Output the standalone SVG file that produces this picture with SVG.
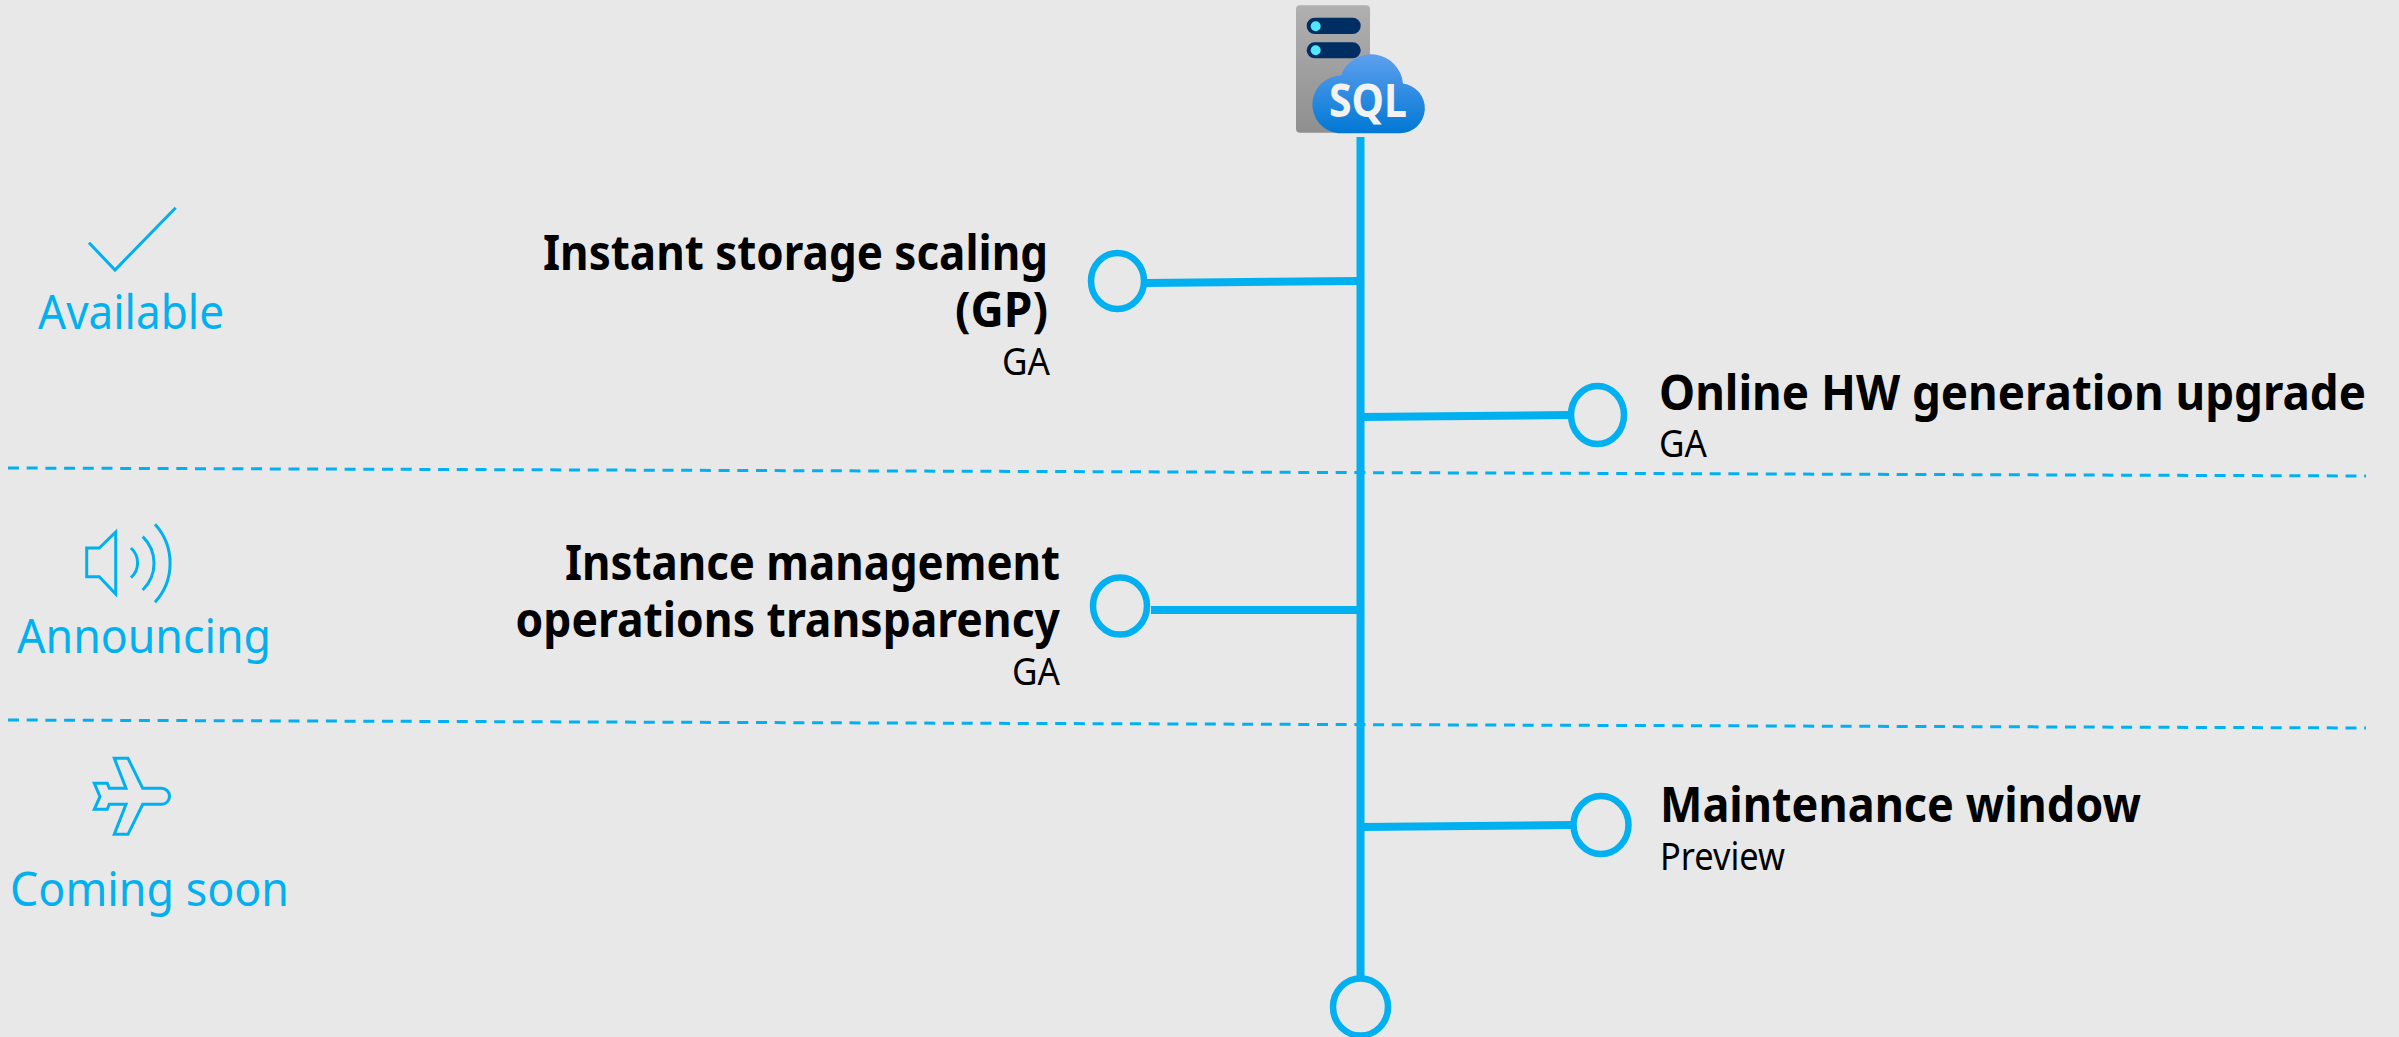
<svg xmlns="http://www.w3.org/2000/svg" width="2399" height="1037" viewBox="0 0 2399 1037">
<style>
.t{font-family:"Noto Sans","Open Sans","Liberation Sans",sans-serif;}
.h{font-size:49px;font-weight:700;fill:#000;}
.s{font-size:38px;font-weight:400;fill:#000;}
.l{font-size:48px;font-weight:400;fill:#00b0f0;}
.ic{fill:none;stroke:#00b0f0;stroke-width:3;}
.c{fill:none;stroke:#00b0f0;stroke-width:6.5;}
.br{stroke:#00b0f0;stroke-width:8;fill:none;}
.d{stroke:#00b0f0;stroke-width:3;stroke-dasharray:11 7.7;fill:none;}
</style>
<defs>
<linearGradient id="g1" x1="0" y1="0" x2="0" y2="1"><stop offset="0" stop-color="#b0b0b0"/><stop offset="1" stop-color="#8f8f8f"/></linearGradient>
<linearGradient id="g2" x1="0" y1="0" x2="0" y2="1"><stop offset="0" stop-color="#5ea0ef"/><stop offset="1" stop-color="#0078d4"/></linearGradient>
</defs>
<rect width="2399" height="1037" fill="#e8e8e8"/>
<g id="connectors">
<line class="d" x1="8" y1="468" x2="2366" y2="476"/>
<line class="d" x1="8" y1="720" x2="2366" y2="728"/>
<line class="br" x1="1360.5" y1="137" x2="1360.5" y2="977"/>
<line class="br" x1="1145" y1="283" x2="1360" y2="281"/>
<line class="br" x1="1360" y1="417" x2="1570" y2="415"/>
<line class="br" x1="1151" y1="610" x2="1360" y2="610"/>
<line class="br" x1="1360" y1="827" x2="1573" y2="825"/>
</g>
<g id="sql-icon">
<rect x="1296" y="5.3" width="74" height="127.4" rx="4" fill="url(#g1)"/>
<rect x="1306.7" y="17.7" width="54" height="16.3" rx="8.1" fill="#002d62"/>
<rect x="1306.7" y="42.3" width="54" height="16" rx="8" fill="#002d62"/>
<circle cx="1315.7" cy="26.3" r="5" fill="#50e6ff"/>
<circle cx="1315.7" cy="50.3" r="5" fill="#50e6ff"/>
<path d="M1338 133.3H1400A25 25 0 0 0 1403 83.5A32 32 0 0 0 1341 75.5A29 29 0 0 0 1338 133.3Z" fill="url(#g2)"/>
<text class="t" x="1329" y="116.7" textLength="78" lengthAdjust="spacingAndGlyphs" style="font-size:46px;font-weight:700;fill:#f2f2f2">SQL</text>
</g>
<g id="legend-available">
<path class="ic" d="M89 242.7L115 270L175.7 207.7"/>
<text class="t l" x="38" y="329" textLength="186" lengthAdjust="spacingAndGlyphs">Available</text>
</g>
<g id="legend-announcing">
<path class="ic" d="M86.7 548H99.3L115.7 532V594L99.3 576.7H86.7Z"/>
<path class="ic" d="M131 548A20 20 0 0 1 131 577.7M142.7 536.7A37 37 0 0 1 142.7 590M155 524.3A58 58 0 0 1 155 602.3"/>
<text class="t l" x="17" y="653" textLength="254" lengthAdjust="spacingAndGlyphs">Announcing</text>
</g>
<g id="legend-coming-soon">
<path class="ic" d="M114.3 758.3H128L142.7 788.3H161.5A8 8 0 0 1 161.5 804.3H142.7L128 834.3H114.3L126 804.3H109.3L107.3 809.3H94.3L100 796.7L94.3 783.3H107.3L109.3 788.3H126Z"/>
<text class="t l" x="10" y="906" textLength="279" lengthAdjust="spacingAndGlyphs">Coming soon</text>
</g>
<g id="node-instant-storage">
<ellipse class="c" cx="1117.5" cy="281" rx="26.5" ry="28"/>
<text class="t h" x="543" y="270" textLength="505" lengthAdjust="spacingAndGlyphs">Instant storage scaling</text>
<text class="t h" x="955" y="327" textLength="93" lengthAdjust="spacingAndGlyphs">(GP)</text>
<text class="t s" x="1002" y="375" textLength="48" lengthAdjust="spacingAndGlyphs">GA</text>
</g>
<g id="node-online-hw">
<ellipse class="c" cx="1597.5" cy="415" rx="26.5" ry="29"/>
<text class="t h" x="1659" y="410" textLength="707" lengthAdjust="spacingAndGlyphs">Online HW generation upgrade</text>
<text class="t s" x="1659" y="457" textLength="48" lengthAdjust="spacingAndGlyphs">GA</text>
</g>
<g id="node-instance-mgmt">
<ellipse class="c" cx="1120" cy="606" rx="27" ry="28.5"/>
<text class="t h" x="565" y="580" textLength="495" lengthAdjust="spacingAndGlyphs">Instance management</text>
<text class="t h" x="515.6" y="637" textLength="544.4" lengthAdjust="spacingAndGlyphs">operations transparency</text>
<text class="t s" x="1012" y="685" textLength="48" lengthAdjust="spacingAndGlyphs">GA</text>
</g>
<g id="node-maintenance">
<ellipse class="c" cx="1601" cy="825" rx="27.5" ry="29"/>
<text class="t h" x="1660" y="822" textLength="481" lengthAdjust="spacingAndGlyphs">Maintenance window</text>
<text class="t s" x="1660" y="870" textLength="125" lengthAdjust="spacingAndGlyphs">Preview</text>
</g>
<g id="node-end">
<ellipse class="c" cx="1360.5" cy="1007" rx="27.5" ry="28.5"/>
</g>
</svg>
